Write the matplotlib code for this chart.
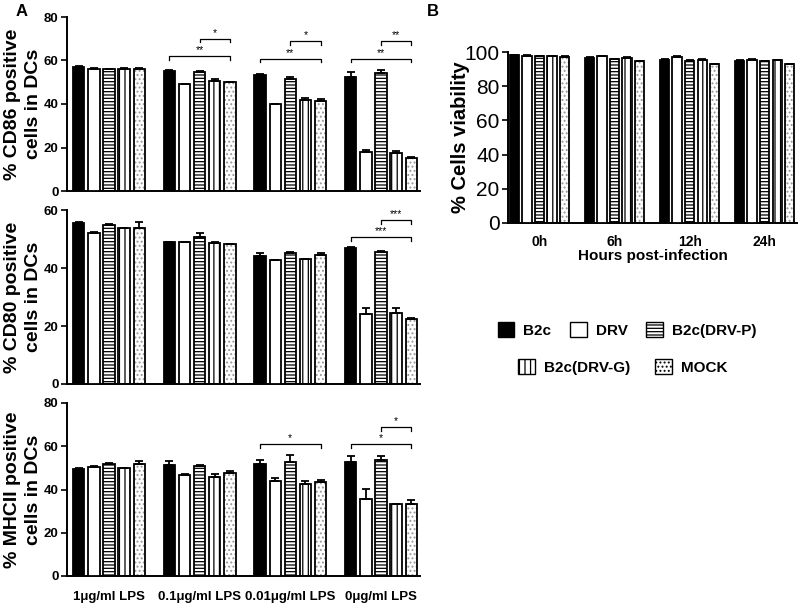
import numpy as np
import matplotlib
matplotlib.use('Agg')
import matplotlib.pyplot as plt
from matplotlib.patches import Patch

plt.rcParams['font.family'] = ['Liberation Sans', 'DejaVu Sans']
plt.rcParams['hatch.linewidth'] = 0.9

# series names and styles
series = ['B2c', 'DRV', 'B2c(DRV-P)', 'B2c(DRV-G)', 'MOCK']
lps_groups = ['1\u03bcg/ml LPS', '0.1\u03bcg/ml LPS', '0.01\u03bcg/ml LPS', '0\u03bcg/ml LPS']
hours = ['0h', '6h', '12h', '24h']

# CD86 (% positive), rows = LPS groups, cols = series
cd86 = [[57.0, 56.0, 56.0, 56.3, 56.0],
        [55.2, 49.2, 54.7, 50.7, 50.0],
        [53.2, 39.9, 51.6, 41.8, 41.5],
        [52.6, 18.0, 54.1, 17.3, 15.3]]
cd86_err = [[0.4, 0.4, 0.3, 0.3, 0.4],
            [0.5, 0.2, 0.5, 0.6, 0.3],
            [0.7, 0.3, 0.7, 1.0, 0.8],
            [2.0, 1.0, 1.5, 1.0, 0.4]]
cd80 = [[55.4, 52.2, 54.8, 53.7, 53.9],
        [48.8, 48.8, 50.6, 48.5, 48.2],
        [44.0, 42.6, 45.2, 43.0, 44.4],
        [46.9, 24.1, 45.6, 24.6, 22.3]]
cd80_err = [[0.4, 0.2, 0.3, 0.2, 1.8],
            [0.2, 0.2, 1.5, 0.4, 0.2],
            [1.3, 0.3, 0.3, 0.2, 0.8],
            [0.3, 2.0, 0.4, 1.5, 0.4]]
mhc = [[49.6, 50.5, 51.8, 49.8, 51.6],
       [51.3, 46.7, 50.9, 45.9, 47.5],
       [51.6, 44.1, 52.6, 42.4, 43.6],
       [52.9, 35.6, 53.6, 33.3, 33.3]]
mhc_err = [[0.2, 0.3, 0.6, 0.2, 1.6],
           [2.0, 0.4, 0.6, 1.4, 1.1],
           [2.0, 1.1, 3.2, 1.5, 0.8],
           [2.7, 4.8, 2.0, 0.0, 1.7]]
viability = [[98.0, 97.6, 97.4, 97.4, 97.0],
             [96.4, 97.4, 95.7, 96.7, 94.5],
             [95.4, 97.2, 94.8, 95.4, 92.8],
             [94.8, 95.5, 94.6, 95.3, 92.8]]
viability_err = [[0.3, 0.4, 0.3, 0.3, 0.4],
                 [0.4, 0.3, 0.4, 0.4, 0.3],
                 [0.3, 0.4, 0.3, 0.3, 0.3],
                 [0.3, 0.3, 0.3, 0.3, 0.3]]

# significance brackets: (group, first bar, last bar, height, label)
cd86_sig = [(1, 0, 4, 62.0, '**'), (1, 2, 4, 70.0, '*'),
            (2, 0, 4, 60.7, '**'), (2, 2, 4, 68.8, '*'),
            (3, 0, 4, 60.7, '**'), (3, 2, 4, 68.8, '**')]
cd80_sig = [(3, 0, 4, 50.6, '***'), (3, 2, 4, 56.5, '***')]
mhc_sig = [(2, 0, 4, 61.0, '*'), (3, 0, 4, 61.0, '*'), (3, 2, 4, 68.8, '*')]

pitch = 0.167
width = 0.125
styles = [dict(fc='black', hatch=None, hc='black'),
          dict(fc='white', hatch=None, hc='black'),
          dict(fc='white', hatch='-----', hc='black'),
          dict(fc='white', hatch='|||', hc='black'),
          dict(fc='white', hatch='....', hc='#999999')]


def draw_bars(ax, vals, errs):
    vals = np.array(vals)
    errs = np.array(errs)
    g = np.arange(vals.shape[0])
    for i, st in enumerate(styles):
        x = g + (i - 2) * pitch
        if st['hatch']:
            ax.bar(x, vals[:, i], width, color='white', edgecolor=st['hc'],
                   hatch=st['hatch'], linewidth=0, zorder=2)
        ax.bar(x, vals[:, i], width, facecolor=st['fc'] if not st['hatch'] else 'none',
               edgecolor='black', linewidth=1.3, zorder=3)
        ax.errorbar(x, vals[:, i], yerr=[np.zeros_like(errs[:, i]), errs[:, i]],
                    fmt='none', ecolor='black', elinewidth=1.3, capsize=3,
                    capthick=1.3, zorder=4)


def draw_sig(ax, sig, ymax):
    for grp, a, b, h, lab in sig:
        x1 = grp + (a - 2) * pitch
        x2 = grp + (b - 2) * pitch
        d = ymax * 0.02
        ax.plot([x1, x1, x2, x2], [h - d, h, h, h - d], color='black', lw=0.9)
        ax.text((x1 + x2) / 2, h + ymax * 0.005, lab, ha='center', va='bottom',
                fontsize=7.5)


def style_axis(ax, ymax, step):
    for s in ['top', 'right']:
        ax.spines[s].set_visible(False)
    for s in ['left', 'bottom']:
        ax.spines[s].set_linewidth(1.4)
    ax.set_ylim(0, ymax)
    ax.set_yticks(np.arange(0, ymax + 1, step))
    ax.tick_params(axis='y', direction='out', length=4, width=1.2, pad=2)
    ax.tick_params(axis='x', length=0)


fig = plt.figure(figsize=(8, 6.04), dpi=100)

ax1 = fig.add_axes([67 / 800, 1 - 191 / 604, 353 / 800, 174 / 604])
ax2 = fig.add_axes([67 / 800, 1 - 384 / 604, 353 / 800, 174 / 604])
ax3 = fig.add_axes([67 / 800, 1 - 576 / 604, 353 / 800, 173 / 604])

panels = [(ax1, cd86, cd86_err, cd86_sig, 80, 20, '% CD86 positive\ncells in DCs'),
          (ax2, cd80, cd80_err, cd80_sig, 60, 20, '% CD80 positive\ncells in DCs'),
          (ax3, mhc, mhc_err, mhc_sig, 80, 20, '% MHCII positive\ncells in DCs')]
for ax, v, e, sig, ymax, step, lab in panels:
    draw_bars(ax, v, e)
    draw_sig(ax, sig, ymax)
    style_axis(ax, ymax, step)
    ax.set_xlim(-0.463, 3.43)
    ax.set_ylabel(lab, fontsize=14, fontweight='bold', linespacing=1.3, va='center')
    ax.yaxis.set_label_coords(-0.124, 0.5)
    for t in ax.get_yticklabels():
        t.set_fontweight('bold')
        t.set_fontsize(9.5)
    ax.set_xticks(np.arange(len(lps_groups)))
    ax.set_xticklabels([])

ax3.set_xticklabels(lps_groups, fontsize=9.5, fontweight='bold')
ax3.tick_params(axis='x', pad=11)

# panel B
axb = fig.add_axes([508 / 800, 1 - 223 / 604, 289 / 800, 171 / 604])
draw_bars(axb, viability, viability_err)
style_axis(axb, 100, 20)
axb.set_xlim(-0.42, 3.43)
axb.set_xticks(np.arange(len(hours)))
axb.set_xticklabels(hours, fontsize=10, fontweight='bold')
axb.tick_params(axis='y', labelsize=15)
axb.tick_params(axis='x', pad=9)
axb.set_xlabel('Hours post-infection', fontsize=11, fontweight='bold', labelpad=0)
axb.set_ylabel('% Cells viability', fontsize=14.5, fontweight='bold', va='center')
axb.yaxis.set_label_coords(-0.166, 0.5)

fig.text(22 / 800, 1 - 12 / 604, 'A', fontsize=12, fontweight='bold', ha='center', va='center')
fig.text(433 / 800, 1 - 12 / 604, 'B', fontsize=12, fontweight='bold', ha='center', va='center')

# legend
handles = []
for name, st in zip(series, styles):
    handles.append(Patch(facecolor=st['fc'], edgecolor='black', hatch=st['hatch'],
                         linewidth=1.0, label=name))
leg1 = fig.legend(handles[:3], series[:3], loc='center', bbox_to_anchor=(627 / 800, 1 - 330 / 604),
                  ncol=3, frameon=False, prop={'weight': 'bold', 'size': 11},
                  handlelength=1.1, handleheight=1.1, columnspacing=1.2, handletextpad=0.6)
leg2 = fig.legend(handles[3:], series[3:], loc='center', bbox_to_anchor=(623 / 800, 1 - 367 / 604),
                  ncol=2, frameon=False, prop={'weight': 'bold', 'size': 11},
                  handlelength=1.1, handleheight=1.1, columnspacing=1.6, handletextpad=0.6)

fig.savefig('out.png', dpi=100)
